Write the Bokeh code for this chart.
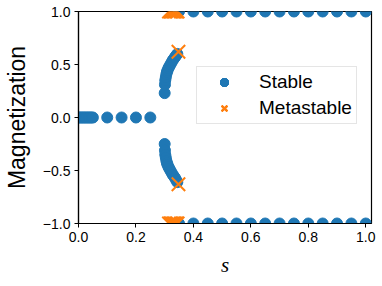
from bokeh.plotting import figure
from bokeh.models import Range1d, FixedTicker, CustomJSTickFormatter
from bokeh.embed import file_html
from bokeh.resources import INLINE

# ---- data ----
# paramagnetic stable branch (m = 0)
s_para = [0.000, 0.005, 0.010, 0.015, 0.020, 0.025, 0.030, 0.035, 0.040, 0.045, 0.050,
          0.100, 0.150, 0.200, 0.250]
m_para = [0.0, 0.0, 0.0, 0.0, 0.0, 0.0, 0.0, 0.0, 0.0, 0.0, 0.0,
          0.0, 0.0, 0.0, 0.0]

# intermediate stable branches
s_branch = [0.300, 0.301, 0.302, 0.304, 0.306, 0.308, 0.310, 0.313, 0.316, 0.320,
            0.324, 0.328, 0.332, 0.336, 0.340, 0.344]
m_branch_up = [0.23, 0.31, 0.35, 0.38, 0.41, 0.43, 0.445, 0.465, 0.48, 0.50,
               0.52, 0.54, 0.555, 0.57, 0.585, 0.60]
m_branch_down = [-0.25, -0.31, -0.35, -0.38, -0.41, -0.43, -0.445, -0.465, -0.48, -0.50,
                 -0.52, -0.54, -0.555, -0.57, -0.59, -0.61]

# ferromagnetic stable branches (m = +1 / -1)
s_ferro = [0.35, 0.40, 0.45, 0.50, 0.55, 0.60, 0.65, 0.70, 0.75, 0.80, 0.85, 0.90, 0.95, 1.00]
m_ferro_up = [1.0, 1.0, 1.0, 1.0, 1.0, 1.0, 1.0, 1.0, 1.0, 1.0, 1.0, 1.0, 1.0, 1.0]
m_ferro_down = [-1.0, -1.0, -1.0, -1.0, -1.0, -1.0, -1.0, -1.0, -1.0, -1.0, -1.0, -1.0, -1.0, -1.0]

# metastable points
s_meta_edge = [0.315, 0.320, 0.325, 0.330, 0.335, 0.340, 0.345]
m_meta_edge_up = [1.0, 1.0, 1.0, 1.0, 1.0, 1.0, 1.0]
m_meta_edge_down = [-1.0, -1.0, -1.0, -1.0, -1.0, -1.0, -1.0]
s_meta_mid = [0.348, 0.348]
m_meta_mid = [0.62, -0.63]

x_ticks = [0.0, 0.2, 0.4, 0.6, 0.8, 1.0]
y_ticks = [-1.0, -0.5, 0.0, 0.5, 1.0]

BLUE = "#1f77b4"
ORANGE = "#ff7f0e"
FONT = "Liberation Sans"

p = figure(output_backend="svg", toolbar_location=None,
           frame_width=293, frame_height=212,
           x_range=Range1d(0.0, 1.02), y_range=Range1d(-1.0, 1.0),
           min_border_left=10, min_border_top=11, min_border_right=8, min_border_bottom=4)

stable_sets = [(s_para, m_para), (s_branch, m_branch_up), (s_branch, m_branch_down),
               (s_ferro, m_ferro_up), (s_ferro, m_ferro_down)]
for xs, ys in stable_sets:
    p.scatter(x=xs, y=ys, marker="circle", size=11, fill_color=BLUE, line_color=BLUE,
              legend_label="Stable")

meta_sets = [(s_meta_edge, m_meta_edge_up), (s_meta_edge, m_meta_edge_down),
             (s_meta_mid, m_meta_mid)]
for xs, ys in meta_sets:
    p.scatter(x=xs, y=ys, marker="x", size=19, line_color=ORANGE, line_width=2,
              legend_label="Metastable")

p.xgrid.visible = False
p.ygrid.visible = False
p.outline_line_color = "black"
p.outline_line_width = 1.2
p.outline_line_alpha = 1.0

fmt = CustomJSTickFormatter(code="return tick.toFixed(1).replace('-', '\u2212');")
for ax, ticks in ((p.xaxis, x_ticks), (p.yaxis, y_ticks)):
    ax.ticker = FixedTicker(ticks=ticks)
    ax.formatter = fmt
    ax.minor_tick_line_color = None
    ax.major_tick_in = 0
    ax.major_tick_out = 4
    ax.major_tick_line_color = "black"
    ax.axis_line_color = "black"
    ax.axis_line_width = 1.2
    ax.major_label_text_font = FONT
    ax.major_label_text_font_size = "14px"
    ax.major_label_text_color = "black"

p.yaxis.axis_label = "Magnetization"
p.yaxis.axis_label_text_font = FONT
p.yaxis.axis_label_text_font_size = "23px"
p.yaxis.axis_label_text_font_style = "normal"
p.yaxis.axis_label_text_color = "black"
p.yaxis.axis_label_standoff = 10
p.yaxis.major_label_standoff = 4

p.xaxis.axis_label = "s"
p.xaxis.axis_label_text_font = "Liberation Serif"
p.xaxis.axis_label_text_font_size = "21px"
p.xaxis.axis_label_text_font_style = "italic"
p.xaxis.axis_label_text_color = "black"
p.xaxis.axis_label_standoff = 8
p.xaxis.major_label_standoff = 4

lg = p.legend[0]
lg.location = (118, 99)
lg.padding = 4
lg.spacing = 4
lg.margin = 0
lg.glyph_width = 46
lg.glyph_height = 20
lg.label_height = 20
lg.label_standoff = 12
lg.label_text_font = FONT
lg.label_text_font_size = "19px"
lg.label_text_color = "black"
lg.border_line_color = "#cccccc"
lg.border_line_width = 1
lg.background_fill_alpha = 0.8

open("out.html", "w").write(file_html(p, INLINE))
